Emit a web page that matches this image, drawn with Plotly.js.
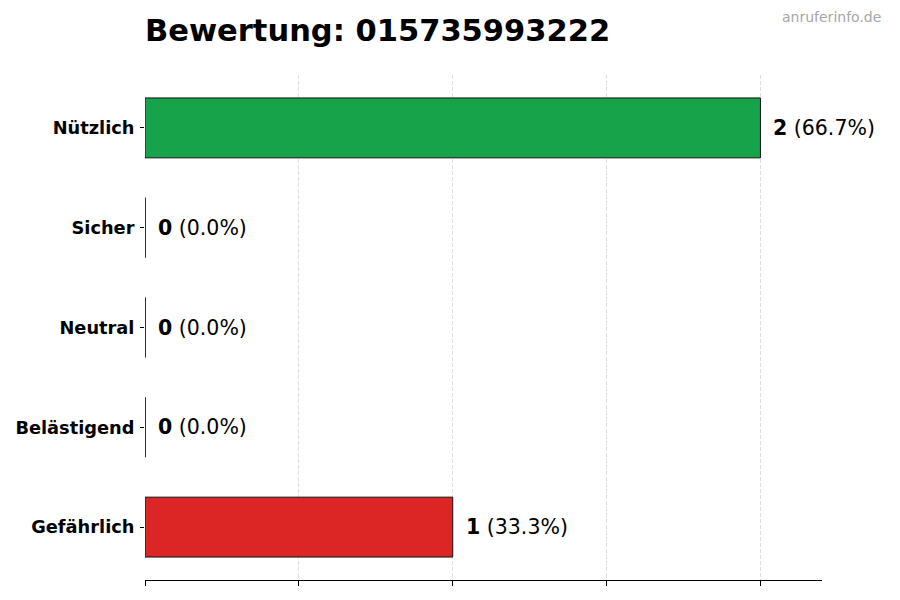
<!DOCTYPE html>
<html>
<head>
<meta charset="utf-8">
<script src="https://cdn.plot.ly/plotly-3.0.1.min.js"></script>
<style>
  body { margin: 0; background: white; }
  #chart { width: 900px; height: 600px; }
</style>
</head>
<body>
<div id="chart"></div>
<script>
// Werte aus dem Bild
const kategorien = ['Nützlich', 'Sicher', 'Neutral', 'Belästigend', 'Gefährlich'];
const anzahl = [2, 0, 0, 0, 1];
const farben = ['#16a34a', '#16a34a', '#9ca3af', '#f97316', '#dc2626'];
const xTicks = [0, 0.5, 1, 1.5, 2];

const gesamt = anzahl.reduce((a, b) => a + b, 0);

const data = [{
  type: 'bar',
  orientation: 'h',
  y: kategorien,
  x: anzahl,
  width: 0.6,
  marker: { color: farben, line: { color: '#111', width: 1 } },
  hoverinfo: 'skip'
}];

// Beschriftungen rechts neben den Balken
const annotations = kategorien.map((k, i) => ({
  x: anzahl[i], y: k, xref: 'x', yref: 'y',
  text: '<b>' + anzahl[i] + '</b> (' + (anzahl[i] / gesamt * 100).toFixed(1) + '%)',
  showarrow: false, xanchor: 'left', yanchor: 'middle', xshift: 11,
  font: { family: 'DejaVu Sans', size: 20.5, color: '#000' }
}));

annotations.push({
  x: 1.09, y: 1.115, xref: 'paper', yref: 'paper',
  text: 'anruferinfo.de', showarrow: false, xanchor: 'right', yanchor: 'middle',
  font: { family: 'DejaVu Sans', size: 14, color: '#a6a6a6' }
});

// Kanten der Nullbalken (Plotly zeichnet sie nicht)
const shapes = [];
kategorien.forEach((k, i) => {
  if (anzahl[i] === 0) {
    shapes.push({ type: 'line', xref: 'x', yref: 'y', x0: 0, x1: 0, y0: i - 0.3, y1: i + 0.3,
      line: { color: '#111', width: 1 } });
  }
});

const layout = {
  width: 900, height: 600,
  margin: { l: 145, r: 78, t: 75, b: 20 },
  paper_bgcolor: 'white', plot_bgcolor: 'white',
  showlegend: false,
  font: { family: 'DejaVu Sans', color: '#000' },
  title: {
    text: '<b>Bewertung: 015735993222</b>',
    x: 0, xref: 'paper', xanchor: 'left', y: 0.95, yanchor: 'middle',
    font: { family: 'DejaVu Sans', size: 30.5, color: '#000' }
  },
  xaxis: {
    range: [0, 2.2], tickvals: xTicks, showticklabels: false,
    ticks: 'outside', ticklen: 5, tickcolor: '#000',
    showline: true, linecolor: '#000', linewidth: 1,
    showgrid: true, gridcolor: '#dedede', griddash: '4px,2px', gridwidth: 1,
    zeroline: false, fixedrange: true
  },
  yaxis: {
    type: 'category', categoryorder: 'array', categoryarray: kategorien,
    range: [4.53, -0.53],
    ticks: 'outside', ticklen: 4, tickcolor: '#000', ticklabelstandoff: 2,
    showline: false, showgrid: false, zeroline: false,
    tickfont: { family: 'DejaVu Sans', size: 17.8, color: '#000', weight: 'bold' },
    fixedrange: true
  },
  annotations: annotations,
  shapes: shapes
};

Plotly.newPlot('chart', data, layout, { displayModeBar: false, staticPlot: true });
</script>
</body>
</html>
